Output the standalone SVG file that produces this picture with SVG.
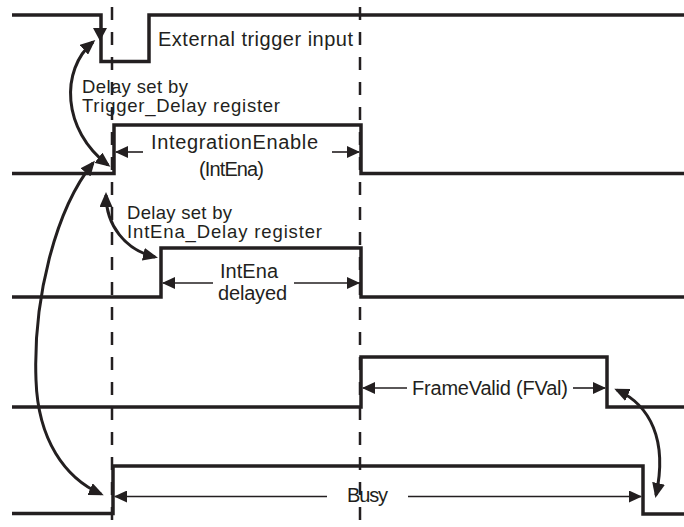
<svg xmlns="http://www.w3.org/2000/svg" width="684" height="527" viewBox="0 0 684 527">
<style>
.sig{fill:none;stroke:#231f20;stroke-width:3.5;stroke-linejoin:miter;stroke-linecap:butt}
.dash{fill:none;stroke:#231f20;stroke-width:2.5;stroke-dasharray:13 12}
.dim{fill:none;stroke:#231f20;stroke-width:1.6}
.curve{fill:none;stroke:#231f20;stroke-width:3}
text{font-family:"Liberation Sans",Arial,sans-serif;font-size:20px;fill:#231f20}
.note{font-size:18.5px}
</style>
<defs>
<marker id="ah" viewBox="0 0 13 12" refX="12" refY="6" markerWidth="13" markerHeight="12" markerUnits="userSpaceOnUse" orient="auto-start-reverse">
<path d="M0,0 L13,6 L0,12 Z" fill="#231f20"/>
</marker>
<marker id="ch" viewBox="0 0 15 13" refX="12" refY="6.5" markerWidth="15" markerHeight="13" markerUnits="userSpaceOnUse" orient="auto-start-reverse">
<path d="M0,0 L15,6.5 L0,13 Z" fill="#231f20"/>
</marker>
</defs>
<rect width="684" height="527" fill="#ffffff"/>
<g id="guides">
<line class="dash" x1="112" y1="7" x2="112" y2="527"/>
<line class="dash" x1="360" y1="7" x2="360" y2="527"/>
</g>
<g id="trigger">
<polyline class="sig" points="12,15 101,15 101,61.5 149,61.5 149,15 684,15"/>
<path d="M93,28 L107,28 L100,41 Z" fill="#231f20"/>
<text x="158" y="46" textLength="195">External trigger input</text>
</g>
<g id="intena">
<polyline class="sig" points="12,173.5 114,173.5 114,125 361,125 361,173.5 684,173.5"/>
<text x="151" y="149" textLength="167">IntegrationEnable</text>
<text x="199" y="176" textLength="65">(IntEna)</text>
</g>
<g id="intena-delayed">
<polyline class="sig" points="12,297 161,297 161,248 361,248 361,297 684,297"/>
<text x="220" y="278" textLength="58">IntEna</text>
<text x="218" y="300" textLength="69">delayed</text>
</g>
<g id="framevalid">
<polyline class="sig" points="12,407 361,407 361,357 607,357 607,407 684,407"/>
<text x="412" y="395" textLength="156">FrameValid (FVal)</text>
</g>
<g id="busy">
<polyline class="sig" points="12,513.5 113,513.5 113,466 643,466 643,514 684,514"/>
<text x="347" y="502" textLength="41">Busy</text>
</g>
<g id="trigger-delay-label">
<text class="note"><tspan x="82" y="93" textLength="106">Delay set by</tspan><tspan x="82" y="112" textLength="198">Trigger_Delay register</tspan></text>
</g>
<g id="intena-delay-label">
<text class="note"><tspan x="127" y="219" textLength="105">Delay set by</tspan><tspan x="127" y="238" textLength="195">IntEna_Delay register</tspan></text>
</g>
<g id="connectors">
<line class="dim" x1="143" y1="152" x2="116" y2="152" marker-end="url(#ah)"/>
<line class="dim" x1="332" y1="152" x2="359" y2="152" marker-end="url(#ah)"/>
<line class="dim" x1="213" y1="283" x2="163" y2="283" marker-end="url(#ah)"/>
<line class="dim" x1="294" y1="283" x2="359" y2="283" marker-end="url(#ah)"/>
<line class="dim" x1="407" y1="388" x2="363" y2="388" marker-end="url(#ah)"/>
<line class="dim" x1="573" y1="388" x2="605" y2="388" marker-end="url(#ah)"/>
<line class="dim" x1="327" y1="496.5" x2="115" y2="496.5" marker-end="url(#ah)"/>
<line class="dim" x1="408" y1="496.5" x2="641" y2="496.5" marker-end="url(#ah)"/>
<path class="curve" d="M93,42 C60,70 62,130 108,165" marker-start="url(#ch)" marker-end="url(#ch)"/>
<path class="curve" d="M93,163 C55,210 33,300 36,380 C38,440 65,478 101,494" marker-start="url(#ch)" marker-end="url(#ch)"/>
<path class="curve" d="M106,195 C106,225 125,250 155,257" marker-start="url(#ch)" marker-end="url(#ch)"/>
<path class="curve" d="M617,390 C650,405 668,440 656,495" marker-start="url(#ch)" marker-end="url(#ch)"/>
</g>
</svg>
